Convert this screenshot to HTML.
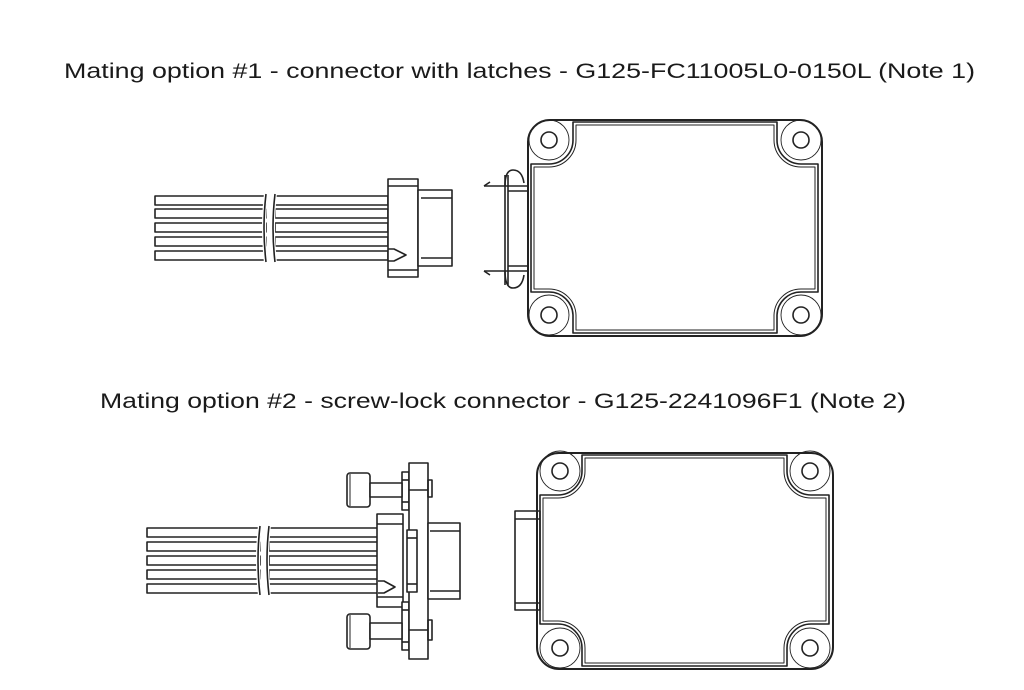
<!DOCTYPE html>
<html><head><style>
html,body{margin:0;padding:0;background:#fff;}
svg{display:block}
</style></head><body>
<svg width="1024" height="690" viewBox="0 0 1024 690" xmlns="http://www.w3.org/2000/svg">
<rect width="1024" height="690" fill="#fff"/>
<g font-family="Liberation Sans, Arial, sans-serif" font-size="21" fill="#1a1a1a">
<text x="64" y="78" textLength="911" lengthAdjust="spacingAndGlyphs">Mating option #1 - connector with latches - G125-FC11005L0-0150L  (Note 1)</text>
<text x="100" y="408" textLength="806" lengthAdjust="spacingAndGlyphs">Mating option #2 - screw-lock connector - G125-2241096F1 (Note 2)</text>
</g>
<g fill="none" stroke="#222" stroke-width="1.6" stroke-linejoin="round">
<!-- ===== Option 1 ===== -->
<g>
<rect x="155" y="196" width="111" height="9"/><rect x="155" y="209" width="111" height="9"/><rect x="155" y="223" width="111" height="9"/><rect x="155" y="237" width="111" height="9"/><rect x="155" y="251" width="111" height="9"/>
<rect x="275" y="196" width="113" height="9"/><rect x="275" y="209" width="113" height="9"/><rect x="275" y="223" width="113" height="9"/><rect x="275" y="237" width="113" height="9"/><rect x="275" y="251" width="113" height="9"/>
</g>
<path d="M266,193 Q262,228 266,263" stroke="#fff" stroke-width="4"/>
<path d="M275,193 Q271,228 275,263" stroke="#fff" stroke-width="4"/>
<path d="M266,194 Q262,228 266,262"/><path d="M275,194 Q271,228 275,262"/>
<rect x="388" y="179" width="30" height="98" fill="#fff"/>
<line x1="388" y1="186" x2="418" y2="186"/><line x1="388" y1="270" x2="418" y2="270"/>
<rect x="418" y="190" width="34" height="76" fill="#fff"/>
<line x1="421" y1="198" x2="452" y2="198"/><line x1="421" y1="258" x2="452" y2="258"/>
<path d="M388,249 L394,249 L406,255 L394,261 L388,261"/>
<!-- latch -->
<line x1="484" y1="186" x2="528" y2="186"/><line x1="484" y1="271" x2="528" y2="271"/>
<path d="M484,186 l6,-4 M484,271 l6,4" />
<path d="M505,175 L505,285 M508,175 L508,285"/>
<path d="M505,186 Q505,170 513,170 Q522,170 524,183"/>
<path d="M505,271 Q505,288 513,288 Q522,288 524,275"/>
<line x1="508" y1="191" x2="528" y2="191"/><line x1="508" y1="266" x2="528" y2="266"/>
<!-- box 1 -->
<rect x="528" y="120" width="294" height="216" rx="22" fill="none" stroke-width="2"/>
<path d="M573,122 L777,122 L777,140 A24,24 0 0 0 801,164 L818,164 L818,292 L801,292 A24,24 0 0 0 777,315 L777,333 L573,333 L573,315 A24,24 0 0 0 549,292 L531,292 L531,164 L549,164 A24,24 0 0 0 573,140 Z"/>
<path d="M576,125 L774,125 L774,140 A27,27 0 0 0 801,167 L815,167 L815,289 L801,289 A27,27 0 0 0 774,315 L774,330 L576,330 L576,315 A27,27 0 0 0 549,289 L534,289 L534,167 L549,167 A27,27 0 0 0 576,140 Z" stroke-width="1"/>
<g>
<circle cx="549" cy="140" r="8"/><circle cx="801" cy="140" r="8"/><circle cx="549" cy="315" r="8"/><circle cx="801" cy="315" r="8"/>
<g stroke-width="0.9"><circle cx="549" cy="140" r="20"/><circle cx="801" cy="140" r="20"/><circle cx="549" cy="315" r="20"/><circle cx="801" cy="315" r="20"/></g>
</g>
<!-- ===== Option 2 ===== -->
<g>
<rect x="147" y="528" width="113" height="9"/><rect x="147" y="542" width="113" height="9"/><rect x="147" y="556" width="113" height="9"/><rect x="147" y="570" width="113" height="9"/><rect x="147" y="584" width="113" height="9"/>
<rect x="269" y="528" width="109" height="9"/><rect x="269" y="542" width="109" height="9"/><rect x="269" y="556" width="109" height="9"/><rect x="269" y="570" width="109" height="9"/><rect x="269" y="584" width="109" height="9"/>
</g>
<path d="M260,525 Q256,560 260,596" stroke="#fff" stroke-width="4"/>
<path d="M269,525 Q265,560 269,596" stroke="#fff" stroke-width="4"/>
<path d="M260,526 Q256,560 260,595"/><path d="M269,526 Q265,560 269,595"/>
<rect x="377" y="514" width="26" height="93" fill="#fff"/>
<line x1="377" y1="524" x2="403" y2="524"/><line x1="377" y1="597" x2="403" y2="597"/>
<path d="M378,581 L384,581 L395,587 L384,593 L378,593"/>
<rect x="402" y="472" width="7" height="38" fill="#fff"/><line x1="402" y1="480" x2="409" y2="480"/><line x1="402" y1="502" x2="409" y2="502"/>
<rect x="402" y="602" width="7" height="48" fill="#fff"/><line x1="402" y1="610" x2="409" y2="610"/><line x1="402" y1="642" x2="409" y2="642"/>
<rect x="409" y="463" width="19" height="196" fill="#fff"/>
<line x1="409" y1="490" x2="428" y2="490"/><line x1="409" y1="630" x2="428" y2="630"/>
<rect x="428" y="480" width="4" height="17"/><rect x="428" y="620" width="4" height="20"/>
<rect x="407" y="530" width="10" height="62" fill="#fff"/>
<line x1="407" y1="538" x2="417" y2="538"/><line x1="407" y1="584" x2="417" y2="584"/>
<rect x="428" y="523" width="32" height="76" fill="#fff"/>
<line x1="430" y1="531" x2="460" y2="531"/><line x1="430" y1="591" x2="460" y2="591"/>
<rect x="347" y="473" width="23" height="34" rx="3" fill="#fff"/><line x1="350" y1="474" x2="350" y2="506" stroke-width="1"/>
<rect x="370" y="483" width="32" height="14" fill="#fff"/>
<rect x="347" y="614" width="23" height="35" rx="3" fill="#fff"/><line x1="350" y1="615" x2="350" y2="648" stroke-width="1"/>
<rect x="370" y="623" width="32" height="16" fill="#fff"/>
<rect x="515" y="511" width="25" height="99" fill="#fff"/>
<line x1="515" y1="519" x2="540" y2="519"/><line x1="515" y1="603" x2="540" y2="603"/>
<!-- box 2 -->
<rect x="537" y="453" width="296" height="216" rx="22" fill="none" stroke-width="2"/>
<path d="M582,455 L787,455 L787,471 A24,24 0 0 0 811,495 L829,495 L829,624 L811,624 A24,24 0 0 0 787,648 L787,666 L582,666 L582,648 A24,24 0 0 0 558,624 L540,624 L540,495 L558,495 A24,24 0 0 0 582,471 Z"/>
<path d="M585,458 L784,458 L784,471 A27,27 0 0 0 811,498 L826,498 L826,621 L811,621 A27,27 0 0 0 784,648 L784,663 L585,663 L585,648 A27,27 0 0 0 558,621 L543,621 L543,498 L558,498 A27,27 0 0 0 585,471 Z" stroke-width="1"/>
<circle cx="560" cy="471" r="8"/><circle cx="810" cy="471" r="8"/><circle cx="560" cy="648" r="8"/><circle cx="810" cy="648" r="8"/>
<g stroke-width="0.9"><circle cx="560" cy="471" r="20"/><circle cx="810" cy="471" r="20"/><circle cx="560" cy="648" r="20"/><circle cx="810" cy="648" r="20"/></g>
</g>
</svg>
</body></html>
